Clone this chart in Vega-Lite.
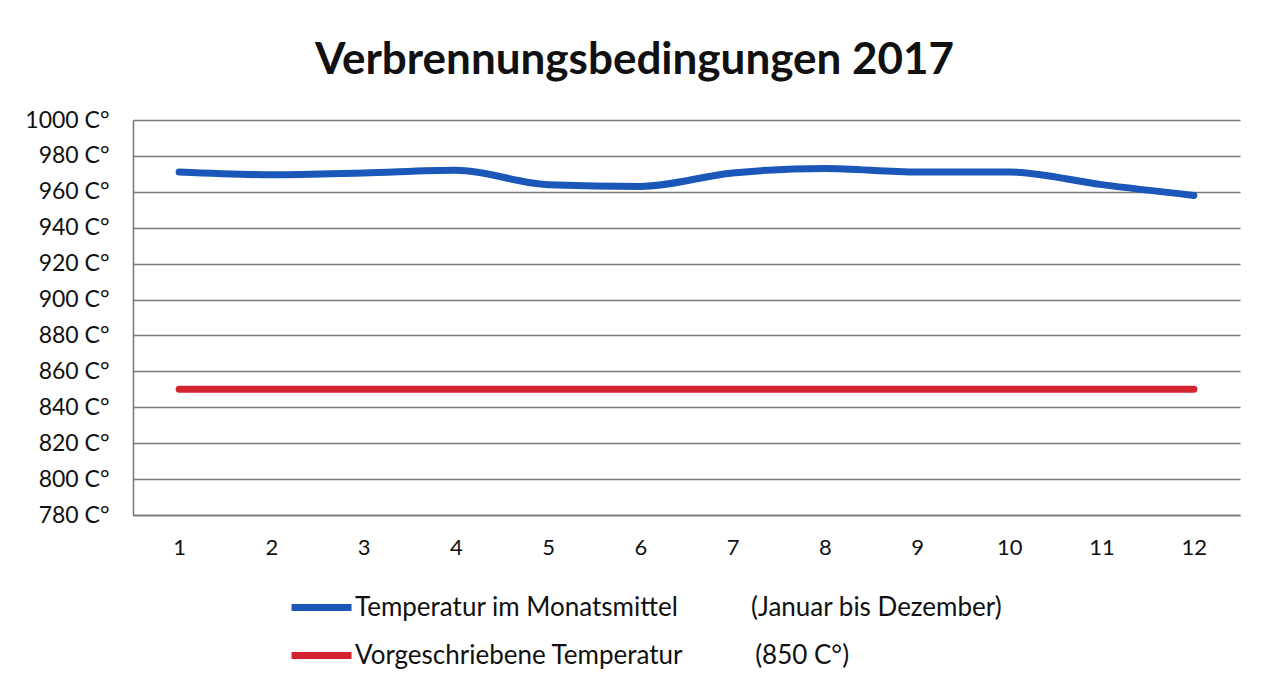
{
  "$schema": "https://vega.github.io/schema/vega-lite/v6.json",
  "autosize": "none",
  "width": 1107,
  "height": 395,
  "padding": {"left": 133, "top": 120, "right": 28, "bottom": 171},
  "background": "white",
  "title": {
    "text": "Verbrennungsbedingungen 2017",
    "font": "Lato",
    "fontSize": 44,
    "fontWeight": "bold",
    "color": "#111111",
    "anchor": "middle",
    "dx": -52,
    "offset": 26
  },
  "data": {
    "values": [
      {"monat": 1, "serie": "Temperatur im Monatsmittel", "temp": 971},
      {"monat": 2, "serie": "Temperatur im Monatsmittel", "temp": 969.5},
      {"monat": 3, "serie": "Temperatur im Monatsmittel", "temp": 970.5},
      {"monat": 4, "serie": "Temperatur im Monatsmittel", "temp": 972},
      {"monat": 5, "serie": "Temperatur im Monatsmittel", "temp": 964},
      {"monat": 6, "serie": "Temperatur im Monatsmittel", "temp": 963},
      {"monat": 7, "serie": "Temperatur im Monatsmittel", "temp": 970.5},
      {"monat": 8, "serie": "Temperatur im Monatsmittel", "temp": 973},
      {"monat": 9, "serie": "Temperatur im Monatsmittel", "temp": 971},
      {"monat": 10, "serie": "Temperatur im Monatsmittel", "temp": 971},
      {"monat": 11, "serie": "Temperatur im Monatsmittel", "temp": 964},
      {"monat": 12, "serie": "Temperatur im Monatsmittel", "temp": 958},
      {"monat": 1, "serie": "Vorgeschriebene Temperatur", "temp": 850},
      {"monat": 2, "serie": "Vorgeschriebene Temperatur", "temp": 850},
      {"monat": 3, "serie": "Vorgeschriebene Temperatur", "temp": 850},
      {"monat": 4, "serie": "Vorgeschriebene Temperatur", "temp": 850},
      {"monat": 5, "serie": "Vorgeschriebene Temperatur", "temp": 850},
      {"monat": 6, "serie": "Vorgeschriebene Temperatur", "temp": 850},
      {"monat": 7, "serie": "Vorgeschriebene Temperatur", "temp": 850},
      {"monat": 8, "serie": "Vorgeschriebene Temperatur", "temp": 850},
      {"monat": 9, "serie": "Vorgeschriebene Temperatur", "temp": 850},
      {"monat": 10, "serie": "Vorgeschriebene Temperatur", "temp": 850},
      {"monat": 11, "serie": "Vorgeschriebene Temperatur", "temp": 850},
      {"monat": 12, "serie": "Vorgeschriebene Temperatur", "temp": 850}
    ]
  },
  "mark": {"type": "line", "strokeWidth": 7, "strokeCap": "round", "strokeJoin": "round", "interpolate": "monotone"},
  "encoding": {
    "x": {
      "field": "monat",
      "type": "ordinal",
      "scale": {"type": "point", "padding": 0.5},
      "axis": {
        "title": null,
        "labelAngle": 0,
        "labelFont": "Lato",
        "labelFontSize": 22,
        "labelColor": "#111111",
        "labelPadding": 22,
        "ticks": false,
        "grid": false,
        "domainColor": "#777777",
        "domainWidth": 1.5
      }
    },
    "y": {
      "field": "temp",
      "type": "quantitative",
      "scale": {"domain": [780, 1000], "nice": false, "zero": false},
      "axis": {
        "title": null,
        "values": [780, 800, 820, 840, 860, 880, 900, 920, 940, 960, 980, 1000],
        "labelExpr": "datum.value + ' C°'",
        "labelFont": "Lato",
        "labelFontSize": 23,
        "labelColor": "#111111",
        "labelPadding": 24,
        "ticks": false,
        "gridColor": "#777777",
        "gridWidth": 1.5,
        "domainColor": "#777777",
        "domainWidth": 1.5
      }
    },
    "color": {
      "field": "serie",
      "type": "nominal",
      "scale": {
        "domain": ["Temperatur im Monatsmittel", "Vorgeschriebene Temperatur"],
        "range": ["#1b57b9", "#d3232e"]
      },
      "legend": {
        "title": null,
        "orient": "none",
        "legendX": 155,
        "legendY": 454,
        "direction": "vertical",
        "symbolType": "stroke",
        "symbolSize": 3600,
        "symbolStrokeWidth": 7,
        "labelFont": "Lato",
        "labelFontSize": 26,
        "labelColor": "#111111",
        "labelOffset": 0,
        "rowPadding": -10,
        "labelLimit": 900,
        "labelExpr": "datum.label == 'Temperatur im Monatsmittel' ? datum.label + '\u00a0\u00a0\u00a0\u00a0\u00a0\u00a0\u00a0\u00a0\u00a0\u00a0\u00a0(Januar bis Dezember)' : datum.label + '\u00a0\u00a0\u00a0\u00a0\u00a0\u00a0\u00a0\u00a0\u00a0\u00a0\u00a0(850 C°)'"
      }
    }
  },
  "config": {"view": {"stroke": null}}
}
